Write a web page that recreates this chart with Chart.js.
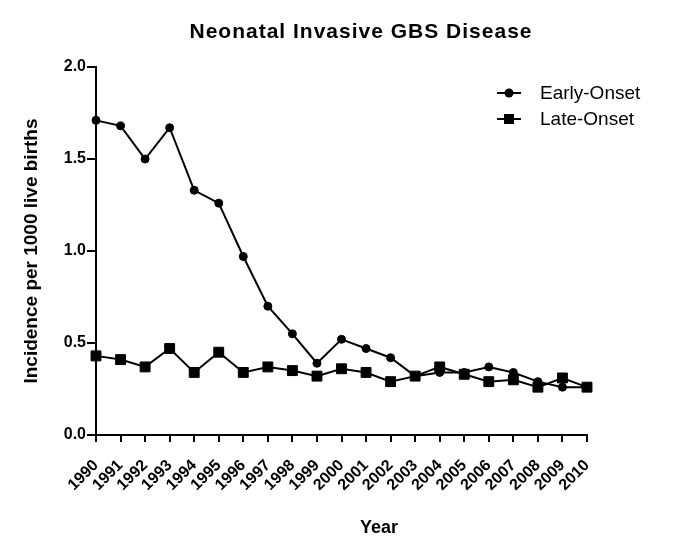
<!DOCTYPE html>
<html>
<head>
<meta charset="utf-8">
<script src="https://cdn.jsdelivr.net/npm/chart.js@4"></script>
<style>
  html, body { margin: 0; padding: 0; background: #fff; }
  #wrap { width: 689px; height: 558px; }
</style>
</head>
<body>
<div id="wrap"><canvas id="gbs-chart"></canvas></div>
<script>
const years = ['1990','1991','1992','1993','1994','1995','1996','1997','1998','1999',
  '2000','2001','2002','2003','2004','2005','2006','2007','2008','2009','2010'];
const earlyOnset = [1.71, 1.68, 1.50, 1.67, 1.33, 1.26, 0.97, 0.70, 0.55, 0.39,
  0.52, 0.47, 0.42, 0.32, 0.34, 0.34, 0.37, 0.34, 0.29, 0.26, 0.26];
const lateOnset = [0.43, 0.41, 0.37, 0.47, 0.34, 0.45, 0.34, 0.37, 0.35, 0.32,
  0.36, 0.34, 0.29, 0.32, 0.37, 0.33, 0.29, 0.30, 0.26, 0.31, 0.26];
const yTicks = [0, 0.5, 1.0, 1.5, 2.0];

const FONT = 'Arial, "Liberation Sans", sans-serif';

// title, x title and legend drawn by hand so they sit where the original puts them
const decor = {
  id: 'decor',
  afterDraw(chart) {
    const ctx = chart.ctx;
    ctx.save();
    ctx.fillStyle = '#000';
    ctx.textBaseline = 'middle';
    ctx.textAlign = 'center';
    ctx.letterSpacing = '1px';
    ctx.font = 'bold 21px ' + FONT;
    ctx.fillText('Neonatal Invasive GBS Disease', 361, 32);
    ctx.letterSpacing = '0px';
    ctx.font = 'bold 18px ' + FONT;
    ctx.fillText('Year', 379, 528);

    const items = [
      { text: 'Early-Onset', style: 'circle', y: 93 },
      { text: 'Late-Onset', style: 'rect', y: 119 }
    ];
    ctx.font = '19px ' + FONT;
    ctx.textAlign = 'left';
    items.forEach(it => {
      ctx.strokeStyle = '#000';
      ctx.lineWidth = 2;
      ctx.beginPath();
      ctx.moveTo(497, it.y);
      ctx.lineTo(521, it.y);
      ctx.stroke();
      ctx.beginPath();
      if (it.style === 'circle') {
        ctx.arc(509, it.y, 4.5, 0, Math.PI * 2);
      } else {
        ctx.rect(504, it.y - 5, 10, 10);
      }
      ctx.fill();
      ctx.fillText(it.text, 540, it.y + 1);
    });
    ctx.restore();
  }
};

const config = {
  type: 'line',
  data: {
    labels: years,
    datasets: [
      {
        label: 'Early-Onset',
        data: earlyOnset,
        borderColor: '#000',
        backgroundColor: '#000',
        borderWidth: 2,
        pointStyle: 'circle',
        pointRadius: 4,
        pointBorderWidth: 1,
        pointHoverRadius: 4,
        tension: 0
      },
      {
        label: 'Late-Onset',
        data: lateOnset,
        borderColor: '#000',
        backgroundColor: '#000',
        borderWidth: 2,
        pointStyle: 'rect',
        pointRadius: 7,
        pointBorderWidth: 1,
        pointHoverRadius: 7,
        tension: 0
      }
    ]
  },
  options: {
    responsive: true,
    maintainAspectRatio: false,
    animation: false,
    layout: { padding: { top: 67, right: 102, left: 0, bottom: 0 } },
    plugins: {
      legend: { display: false },
      title: { display: false },
      tooltip: { enabled: false }
    },
    scales: {
      x: {
        type: 'category',
        offset: false,
        afterFit(scale) { scale.height = 123; },
        grid: { display: true, drawOnChartArea: false, drawTicks: true, tickLength: 7, color: '#000', lineWidth: 2 },
        border: { display: true, color: '#000', width: 2 },
        ticks: {
          color: '#000',
          font: { family: FONT, size: 16, weight: 'bold' },
          minRotation: 45,
          maxRotation: 45,
          autoSkip: false,
          padding: 14
        },
        title: { display: false }
      },
      y: {
        min: 0,
        max: 2,
        afterFit(scale) { scale.width = 96; },
        afterBuildTicks(scale) { scale.ticks = yTicks.map(v => ({ value: v })); },
        grid: { display: true, drawOnChartArea: false, drawTicks: true, tickLength: 9, color: '#000', lineWidth: 2 },
        border: { display: true, color: '#000', width: 2 },
        ticks: {
          color: '#000',
          font: { family: FONT, size: 16, weight: 'bold' },
          padding: 1,
          callback: v => Number(v).toFixed(1)
        },
        title: {
          display: true,
          text: 'Incidence per 1000 live births',
          color: '#000',
          font: { family: FONT, size: 19, weight: 'bold' },
          padding: { top: 20, bottom: 10 }
        }
      }
    }
  },
  plugins: [decor]
};

const gbsChart = new Chart(document.getElementById('gbs-chart'), config);
</script>
</body>
</html>
